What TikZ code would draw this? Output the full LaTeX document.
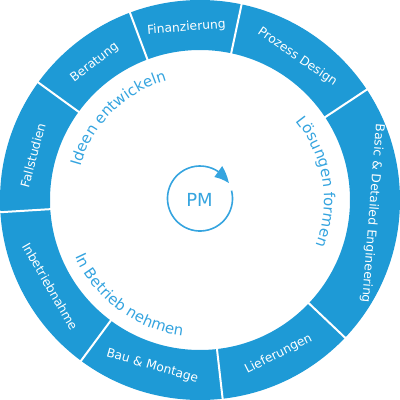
\documentclass[tikz,border=0pt]{standalone}
\usepackage{fontspec}
\setmainfont{DejaVu Sans}
\usepackage{tikz}
\usetikzlibrary{arrows.meta,bending,decorations.text}
\definecolor{ringblue}{HTML}{1E9AD6}
\definecolor{phaseblue}{HTML}{35A4DF}

\begin{document}
\begin{tikzpicture}[x=1pt,y=1pt,
  seglabel/.style={text=white,font=\fontsize{12.3}{14}\selectfont,inner sep=0pt},
  phase/.style={postaction={decorate},decoration={text along path,text align=center,
      text color=phaseblue,text={|\fontsize{15}{17}\selectfont|#1}}}]
  \useasboundingbox (-200,-200) rectangle (200,200);
  % ring and its dividers
  \fill[ringblue,even odd rule] (0,0) circle (200) (0,0) circle (150);
  \foreach \a in {183.5,144,110.5,78,33.5,-43.5,-83.5,-126.5}
    \draw[white,line width=2pt] (\a:147) -- (\a:203);
  \foreach \m/\r/\t [count=\i] in {165/75/Fallstudien, 127.5/37.5/Beratung,
      94.5/4.5/Finanzierung, 55.75/-34.25/Prozess Design,
      -4.5/-94.5/Basic \& Detailed Engineering, -63/27/Lieferungen,
      -106/-16/Bau \& Montage, 210/-60/Inbetriebnahme}
    \node[seglabel,rotate=\r] (seg\i) at (\m:173) {\t};
  % phases inside the ring
  \path[phase={Ideen entwickeln}] (175:124) arc[start angle=175,end angle=95,radius=124];
  \path[phase={Lösungen formen}] (49:124) arc[start angle=49,end angle=-31,radius=124];
  \path[phase={In Betrieb nehmen}] (193.5:137) arc[start angle=193.5,end angle=273.5,radius=137];
  % centre
  \node[text=phaseblue,font=\fontsize{18}{20}\selectfont] (pm) at (-0.5,0) {PM};
  \draw[phaseblue,line width=1.6pt,-{Triangle[length=16pt,width=13pt,bend]}]
    ([shift={(14:32.5)}]0,1.5) arc[start angle=14,end angle=-332,radius=32.5];
\end{tikzpicture}
\end{document}
